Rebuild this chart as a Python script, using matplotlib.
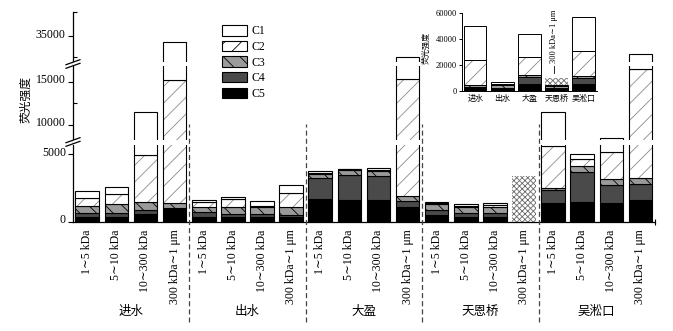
import numpy as np
import matplotlib
matplotlib.use("Agg")
import matplotlib.pyplot as plt
import matplotlib.transforms as mtransforms
from matplotlib.patches import Patch

plt.rcParams["font.family"] = ["Liberation Serif", "DejaVu Serif", "Noto Sans CJK SC"]
plt.rcParams["hatch.linewidth"] = 0.6
plt.rcParams["axes.unicode_minus"] = False

# ---- data ----
sites = ["进水", "出水", "大盈", "天恩桥", "吴淞口"]
fractions = ["1∼5 kDa", "5∼10 kDa", "10∼300 kDa", "300 kDa∼1 μm"]
components = ["C1", "C2", "C3", "C4", "C5"]

# one value per bar: 5 sites x 4 size fractions
c5 = [300, 300, 530, 900, 350, 360, 300, 310, 1670, 1640, 1590, 1050,
      480, 370, 370, 0, 1350, 1470, 1350, 1590]
c4 = [300, 300, 320, 100, 330, 200, 250, 170, 1600, 1800, 1800, 490,
      370, 240, 240, 0, 980, 2220, 1410, 1190]
c3 = [560, 690, 620, 400, 370, 490, 500, 620, 250, 430, 370, 350,
      420, 490, 440, 0, 170, 420, 440, 490]
c2 = [620, 740, 3460, 13830, 370, 620, 130, 1060, 90, 30, 110, 13410,
      100, 70, 170, 0, 3170, 570, 2020, 13210]
c1 = [490, 540, 6550, 18250, 170, 170, 340, 600, 150, 40, 140, 14700,
      100, 100, 170, 0, 5810, 370, 3300, 14320]
# 天恩桥 300 kDa~1 μm was not resolved into components
mixed = [0] * 15 + [3390] + [0] * 4

# inset: totals per site
in_c5 = [1850, 1300, 5200, 1300, 5200]
in_c4 = [750, 900, 5600, 1000, 4800]
in_c3 = [1800, 2000, 1300, 1300, 1300]
in_c2 = [19200, 1300, 13600, 300, 19500]
in_c1 = [26200, 1200, 17700, 300, 26100]
in_mixed = [0, 0, 0, 5400, 0]

# ---- broken y scale (piecewise linear) ----
seg_vals = [0, 5746, 8256, 16802, 28881, 40714]
seg_pix = [0, 77, 81.5, 155.5, 160, 209.2]


def fwd(v):
    return np.interp(v, seg_vals, seg_pix)


def inv(p):
    return np.interp(p, seg_pix, seg_vals)


styles = {
    "C1": dict(color="white", hatch=None, hc="black"),
    "C2": dict(color="white", hatch="//", hc="#8a8a8a"),
    "C3": dict(color="#9a9a9a", hatch="\\\\", hc="black"),
    "C4": dict(color="#4a4a4a", hatch=None, hc="black"),
    "C5": dict(color="black", hatch=None, hc="black"),
}


def stacked(ax, x, layers, width, lw=0.8):
    bottom = np.zeros(len(x))
    for name, vals in layers:
        vals = np.asarray(vals, dtype=float)
        st = styles[name]
        ax.bar(x, vals, width, bottom=bottom, color=st["color"], hatch=st["hatch"],
               edgecolor=st["hc"], linewidth=0 if st["hatch"] else lw, zorder=2)
        if st["hatch"]:
            ax.bar(x, vals, width, bottom=bottom, fill=False, edgecolor="black",
                   linewidth=lw, zorder=2)
        bottom += vals
    return bottom


fig = plt.figure(figsize=(6.73, 3.31), dpi=100)
ax = fig.add_axes([72.7 / 673, 1 - 221.5 / 331, 582.3 / 673, 209.2 / 331])
ax.set_yscale("function", functions=(fwd, inv))

x = np.arange(20)
keep = np.array([v > 0 for v in c5])
layers = [("C5", c5), ("C4", c4), ("C3", c3), ("C2", c2), ("C1", c1)]
stacked(ax, x[keep], [(n, np.asarray(v)[keep]) for n, v in layers], 0.81)
mx = np.array(mixed) > 0
ax.bar(x[mx], np.array(mixed)[mx], 0.81, color="white", hatch="xxxxxx",
       edgecolor="#6a6a6a", linewidth=0, zorder=2)

ax.set_xlim(-0.5, 19.5)
ax.set_ylim(0, seg_vals[-1])

# white gaps at the breaks
ax.axhspan(seg_vals[1], seg_vals[2], color="white", zorder=3, lw=0)
ax.axhspan(seg_vals[3], seg_vals[4], color="white", zorder=3, lw=0)

for s in ["top", "right"]:
    ax.spines[s].set_visible(False)
for s in ["left", "bottom"]:
    ax.spines[s].set_linewidth(0.9)

ax.set_yticks([0, 5000, 10000, 15000, 35000])
ax.set_yticklabels(["0", "5000", "10000", "15000", "35000"])
ax.set_yticks([12500, 30000, seg_vals[-1]], minor=True)
ax.tick_params(axis="y", which="major", direction="out", length=3.5, width=0.8,
               labelsize=8.5, pad=1.5)
ax.tick_params(axis="y", which="minor", direction="in", length=3, width=0.8)
# labels sit a little above their ticks in the original
shift = mtransforms.ScaledTranslation(0, 3 / 100, fig.dpi_scale_trans)
for lab in ax.get_yticklabels():
    lab.set_transform(lab.get_transform() + shift)

ax.set_xticks(x)
ax.set_xticklabels(fractions * 5, rotation=90, fontsize=8.5)
ax.tick_params(axis="x", length=0, pad=5.5)
ax.set_xticks([19.5], minor=True)
ax.tick_params(axis="x", which="minor", direction="inout", length=5, width=0.8)

# group separators and names
for b in [3.5, 7.5, 11.5, 15.5]:
    ax.axvline(b, ymin=-0.48, ymax=0.466, clip_on=False, color="#444444",
               ls=(0, (4, 2.5)), lw=0.9, zorder=4)
for i, s in enumerate(sites):
    ax.text(4 * i + 1.5, -0.433, s, transform=ax.get_xaxis_transform(),
            ha="center", va="center", fontsize=9)

# break marks on the y axis
for yb in [142, 64]:
    for dy in [-1.8, 1.8]:
        fig.add_artist(plt.Line2D([66 / 673, 80 / 673],
                                  [1 - (yb + dy + 2.5) / 331, 1 - (yb + dy - 2.5) / 331],
                                  color="black", lw=0.9))

fig.text(26 / 673, 1 - 100 / 331, "荧光强度", rotation=90, ha="center",
         va="center", fontsize=8.5)

# legend
handles = [Patch(facecolor=styles[c]["color"], hatch=styles[c]["hatch"],
                 edgecolor="black", linewidth=0.8) for c in components]
fig.legend(handles, components, loc="upper left",
           bbox_to_anchor=(222 / 673, 1 - 25 / 331), frameon=False,
           fontsize=8.5, handlelength=2.15, handleheight=1.0,
           labelspacing=0.28, handletextpad=0.35, borderpad=0, borderaxespad=0)

# inset
axi = fig.add_axes([461.7 / 673, 1 - 90.7 / 331, 135.5 / 673, 78 / 331])
xi = np.arange(5)
stacked(axi, xi, [("C5", in_c5), ("C4", in_c4), ("C3", in_c3),
                  ("C2", in_c2), ("C1", in_c1)], 0.83, lw=0.7)
bot = np.array(in_c5) + np.array(in_c4) + np.array(in_c3) + np.array(in_c2) + np.array(in_c1)
m = np.array(in_mixed) > 0
axi.bar(xi[m], np.array(in_mixed)[m], 0.83, bottom=bot[m], color="white",
        hatch="xxxxxx", edgecolor="#6a6a6a", linewidth=0, zorder=2)
axi.set_xlim(-0.5, 4.5)
axi.set_ylim(0, 60000)
axi.set_yticks([0, 20000, 40000, 60000])
axi.tick_params(axis="y", direction="out", length=2.5, width=0.7, labelsize=6, pad=1)
axi.set_xticks(xi)
axi.set_xticklabels(sites, fontsize=5.8)
axi.tick_params(axis="x", length=0, pad=3)
for s in ["top", "right"]:
    axi.spines[s].set_visible(False)
for s in ["left", "bottom"]:
    axi.spines[s].set_linewidth(0.7)
axi.text(2.9, 21500, "300 kDa∼1 μm", rotation=90, ha="center", va="bottom", fontsize=6)
axi.plot([2.9, 2.9], [13600, 19000], color="black", lw=0.6)
fig.text(426 / 673, 1 - 48 / 331, "荧光强度", rotation=90, ha="center",
         va="center", fontsize=5.8)

fig.savefig("out.png", dpi=100)
